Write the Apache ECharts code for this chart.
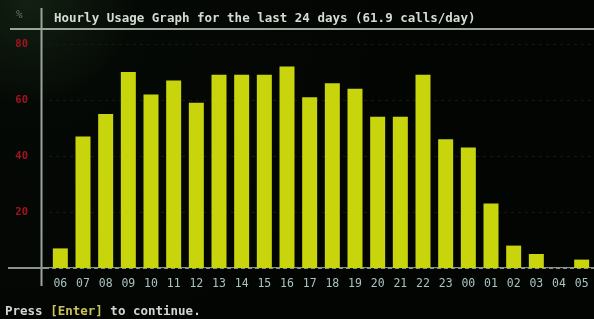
<!DOCTYPE html>
<html>
<head>
<meta charset="utf-8">
<script src="https://cdn.jsdelivr.net/npm/echarts@6/dist/echarts.min.js"></script>
<style>
html,body{margin:0;padding:0;background:#040704;}
#c1{width:594px;height:319px;}
</style>
</head>
<body>
<div id="c1"></div>
<script type="text/javascript">
// hours shown along the bottom, starting at 06
var hours = ['06','07','08','09','10','11','12','13','14','15','16','17','18','19','20','21','22','23','00','01','02','03','04','05'];
// calls per hour
var calls = [7, 47, 55, 70, 62, 67, 59, 69, 69, 69, 72, 61, 66, 64, 54, 54, 69, 46, 43, 23, 8, 5, 0, 3];
var yTicks = [20, 40, 60, 80];
var titleText = 'Hourly Usage Graph for the last 24 days (61.9 calls/day)';

var mono = 'DejaVu Sans Mono';
var chart = echarts.init(document.getElementById('c1'));
var option = {
    backgroundColor: {
        type: 'radial', x: 0.05, y: 0, r: 1.1,
        colorStops: [{offset: 0, color: '#122012'}, {offset: 0.3, color: '#050905'}, {offset: 1, color: '#030503'}]
    },
    animation: false,
    title: {
        text: titleText,
        left: 49,
        top: 7,
        textStyle: {color: '#d4dcd4', fontFamily: mono, fontSize: 12.5, fontWeight: 'bold'}
    },
    grid: {left: 49, right: 1, top: 44, bottom: 51},
    xAxis: {
        type: 'category',
        data: hours,
        axisLine: {show: false},
        axisTick: {show: false},
        axisLabel: {color: '#a9c2c2', fontFamily: mono, fontSize: 11.5, margin: 10}
    },
    yAxis: {
        type: 'value',
        min: 0,
        max: 80,
        interval: 20,
        axisLine: {show: false},
        axisTick: {show: false},
        splitLine: {show: true, lineStyle: {color: '#151a15', type: [3, 4], width: 1}},
        axisLabel: {
            color: '#a3141f', fontFamily: mono, fontSize: 10.5, fontWeight: 'bold', margin: 21,
            formatter: function(v){ return yTicks.indexOf(v) >= 0 ? String(v) : ''; }
        }
    },
    series: [{
        type: 'bar',
        data: calls,
        barWidth: 15,
        itemStyle: {color: '#c8d50c'}
    }],
    graphic: [
        {type: 'line', shape: {x1: 10, y1: 29, x2: 594, y2: 29}, style: {stroke: '#9aa49a', lineWidth: 2}},
        {type: 'line', shape: {x1: 41.5, y1: 8, x2: 41.5, y2: 286}, style: {stroke: '#9aa49a', lineWidth: 2}},
        {type: 'line', shape: {x1: 8, y1: 268, x2: 594, y2: 268}, style: {stroke: '#8a948a', lineWidth: 2}},
        {type: 'text', left: 16, top: 10, style: {text: '%', fill: '#6a706a', font: '11px ' + mono}},
        {
            type: 'text', left: 5, top: 305,
            style: {
                text: '{w|Press }{y|[Enter]}{w| to continue.}',
                rich: {
                    w: {fill: '#d0d6d0', font: 'bold 12.5px ' + mono},
                    y: {fill: '#c9c25a', font: 'bold 12.5px ' + mono}
                }
            }
        }
    ]
};
chart.setOption(option);
</script>
</body>
</html>
